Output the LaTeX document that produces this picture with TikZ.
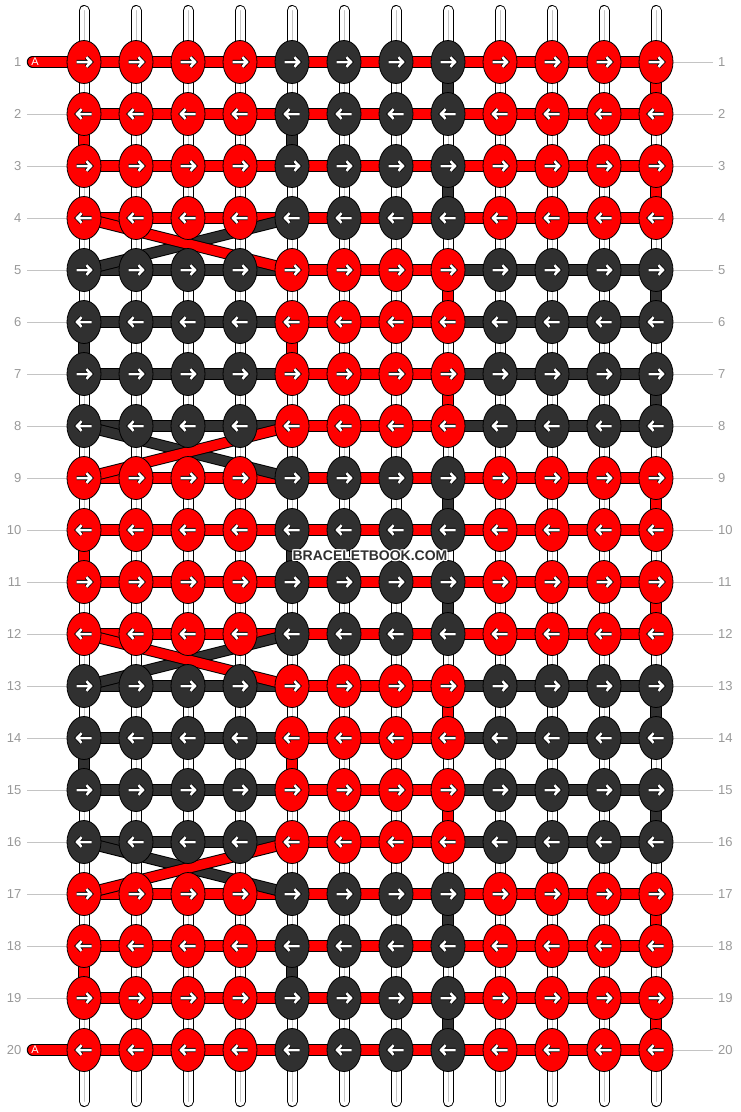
\documentclass[tikz,border=0pt]{standalone}
\usepackage{fontspec}
\setmainfont{Liberation Sans}
\usetikzlibrary{shapes.geometric}
\definecolor{knotred}{HTML}{FF0000}
\definecolor{knotdark}{HTML}{303030}
\definecolor{rowgrey}{HTML}{999999}
\definecolor{lightgrey}{HTML}{C4C4C4}
\pgfdeclarelayer{back}
\pgfsetlayers{back,main}
\tikzset{
  arrowline/.style={draw=white,line width=2.5pt,preaction={draw=black,line width=4.1pt}},
  rarrow/.pic={\draw[arrowline] (-7.5,0) -- (7,0) (2.5,-4.8) -- (7,0) -- (2.5,4.8);},
  larrow/.pic={\draw[arrowline] (7.5,0) -- (-7,0) (-2.5,-4.8) -- (-7,0) -- (-2.5,4.8);}
}
\begin{document}
\begin{tikzpicture}[x=1pt,y=1pt]
    \tikzstyle{knot}=[ellipse,draw=black,line width=0.8pt,minimum width=34pt,minimum height=43pt,inner sep=0pt]
    \tikzstyle{warp}=[draw=white,line width=9pt,line cap=round,preaction={draw=black,line width=11pt,line cap=round},postaction={draw=lightgrey,line width=0.8pt}]
    \tikzstyle{thread}=[line width=9.5pt,preaction={draw=black,line width=11.5pt}]
    \tikzstyle{lead}=[draw=knotred,line width=9.5pt,line cap=round,preaction={draw=black,line width=11.5pt,line cap=round}]
    \tikzstyle{guide}=[draw=lightgrey,line width=0.8pt]
    \tikzstyle{rowno}=[text=rowgrey,inner sep=0pt,font=\fontsize{13}{13}\selectfont]
    \tikzstyle{wmark}=[inner sep=0pt,font=\bfseries\fontsize{14}{14}\selectfont]

    \useasboundingbox (0,0) rectangle (740,-1112);

    \foreach \row in {1,...,20}{
      \pgfmathtruncatemacro\blk{mod(int((\row-1)/4),2)}
      \foreach \col in {1,...,12}{
        \pgfmathtruncatemacro\inmid{and(\col>4,\col<9)}
        \ifnum\blk=\inmid\relax\def\kc{knotred}\else\def\kc{knotdark}\fi
        \node[knot,fill=\kc] (k-\row-\col) at ({32+52*\col},{-10-52*\row}) {};
        \ifodd\row\relax\pic at (k-\row-\col) {rarrow};\else\pic at (k-\row-\col) {larrow};\fi
      }
      \node[rowno,anchor=east] (ln-\row) at (21.5,{-10-52*\row}) {\row};
      \node[rowno,anchor=west] (rn-\row) at (718,{-10-52*\row}) {\row};
      \coordinate (rg-\row) at (713,{-10-52*\row});
    }

    \begin{pgfonlayer}{back}
      \fill[white] (0,0) rectangle (740,-1112);
      \foreach \col in {1,...,12}{
        \coordinate (wt-\col) at ({32+52*\col},-10.5);
        \coordinate (wb-\col) at ({32+52*\col},-1101.5);
        \draw[warp] (wt-\col) -- (wb-\col);
      }
      \foreach \row in {1,...,20}
        \draw[guide] (k-\row-12.center) -- (rg-\row);
      \foreach \row in {2,...,19}{
        \coordinate (lg-\row) at (27,{-10-52*\row});
        \draw[guide] (lg-\row) -- (k-\row-1.center);
      }

      \foreach \row in {1,...,20}{
        \pgfmathtruncatemacro\blk{mod(int((\row-1)/4),2)}
        \foreach \col in {1,...,11}{
          \pgfmathtruncatemacro\nxt{\col+1}
          \pgfmathtruncatemacro\isred{or(\blk==0,and(\col>4,\col<8))}
          \ifnum\isred=1\relax\def\bc{knotred}\else\def\bc{knotdark}\fi
          \draw[thread,draw=\bc] (k-\row-\col.center) -- (k-\row-\nxt.center);
        }
      }

      \foreach \blkno in {0,...,4}{
        \pgfmathtruncatemacro\ra{4*\blkno+1}
        \pgfmathtruncatemacro\rb{4*\blkno+2}
        \pgfmathtruncatemacro\rc{4*\blkno+3}
        \pgfmathtruncatemacro\rd{4*\blkno+4}
        \ifodd\blkno\relax\def\mc{knotdark}\def\sc{knotred}\else\def\mc{knotred}\def\sc{knotdark}\fi
        \draw[thread,draw=\mc] (k-\ra-12.center) -- (k-\rb-12.center);
        \draw[thread,draw=\mc] (k-\rb-1.center) -- (k-\rc-1.center);
        \draw[thread,draw=\mc] (k-\rc-12.center) -- (k-\rd-12.center);
        \draw[thread,draw=\sc] (k-\ra-8.center) -- (k-\rb-8.center);
        \draw[thread,draw=\sc] (k-\rb-5.center) -- (k-\rc-5.center);
        \draw[thread,draw=\sc] (k-\rc-8.center) -- (k-\rd-8.center);
      }

      \draw[thread,draw=knotdark] (k-4-5.center) -- (k-5-1.center);
      \draw[thread,draw=knotred] (k-4-1.center) -- (k-5-5.center);
      \draw[thread,draw=knotdark] (k-8-1.center) -- (k-9-5.center);
      \draw[thread,draw=knotred] (k-8-5.center) -- (k-9-1.center);
      \draw[thread,draw=knotdark] (k-12-5.center) -- (k-13-1.center);
      \draw[thread,draw=knotred] (k-12-1.center) -- (k-13-5.center);
      \draw[thread,draw=knotdark] (k-16-1.center) -- (k-17-5.center);
      \draw[thread,draw=knotred] (k-16-5.center) -- (k-17-1.center);

      \coordinate (lead-1) at (32.5,-62);
      \coordinate (lead-20) at (32.5,-1050);
      \draw[lead] (lead-1) -- (k-1-1.center);
      \draw[lead] (lead-20) -- (k-20-1.center);
    \end{pgfonlayer}

    \node[text=white,inner sep=0pt,font=\fontsize{11}{11}\selectfont] (a-1) at (35,-62) {A};
    \node[text=white,inner sep=0pt,font=\fontsize{11}{11}\selectfont] (a-20) at (35,-1050) {A};

    \foreach \dx/\dy [count=\i] in {-1/0,1/0,0/-1,0/1,-1/-1,1/1,-1/1,1/-1}
      \node[wmark,text=white] (wm-\i) at (370+\dx,-556+\dy) {BRACELETBOOK.COM};
    \node[wmark,text=knotdark] (wm) at (370,-556) {BRACELETBOOK.COM};
\end{tikzpicture}
\end{document}
